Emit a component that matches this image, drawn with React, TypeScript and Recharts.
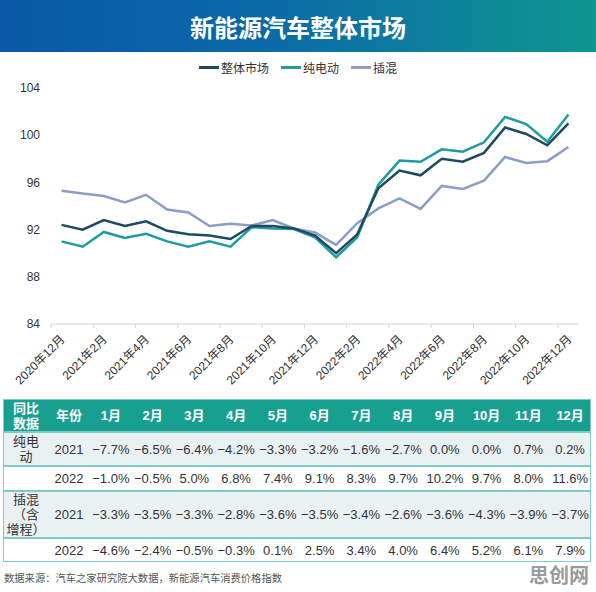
import { LineChart, Line, XAxis, YAxis } from 'recharts'

// 月度价格指数（2020年12月 - 2022年12月）
const months = [
  '2020年12月',
  '2021年1月', '2021年2月', '2021年3月', '2021年4月', '2021年5月', '2021年6月',
  '2021年7月', '2021年8月', '2021年9月', '2021年10月', '2021年11月', '2021年12月',
  '2022年1月', '2022年2月', '2022年3月', '2022年4月', '2022年5月', '2022年6月',
  '2022年7月', '2022年8月', '2022年9月', '2022年10月', '2022年11月', '2022年12月',
]
const overall = [
  92.4, 92.0, 92.8, 92.3, 92.7, 91.9, 91.6, 91.5, 91.2, 92.3, 92.3, 92.1,
  91.5, 90.0, 91.6, 95.5, 97.0, 96.6, 98.0, 97.75, 98.5, 100.65, 100.1, 99.15, 101.0,
]
const bev = [
  91.0, 90.55, 91.8, 91.3, 91.65, 91.0, 90.55, 91.0, 90.55, 92.2, 92.1, 92.05,
  91.35, 89.65, 91.35, 95.8, 97.85, 97.75, 98.8, 98.6, 99.4, 101.55, 100.95, 99.45, 101.75,
]
const phev = [
  95.3, 95.05, 94.85, 94.3, 94.95, 93.7, 93.45, 92.3, 92.5, 92.35, 92.8, 92.1,
  91.75, 90.7, 92.55, 93.8, 94.65, 93.75, 95.7, 95.45, 96.15, 98.15, 97.65, 97.8, 99.0,
]
const yTicks = [84, 88, 92, 96, 100, 104]

// 同比数据表
const tableMonths = ['1月', '2月', '3月', '4月', '5月', '6月', '7月', '8月', '9月', '10月', '11月', '12月']
const bev2021 = [-7.7, -6.5, -6.4, -4.2, -3.3, -3.2, -1.6, -2.7, 0.0, 0.0, 0.7, 0.2]
const bev2022 = [-1.0, -0.5, 5.0, 6.8, 7.4, 9.1, 8.3, 9.7, 10.2, 9.7, 8.0, 11.6]
const phev2021 = [-3.3, -3.5, -3.3, -2.8, -3.6, -3.5, -3.4, -2.6, -3.6, -4.3, -3.9, -3.7]
const phev2022 = [-4.6, -2.4, -0.5, -0.3, 0.1, 2.5, 3.4, 4.0, 6.4, 5.2, 6.1, 7.9]

const C_ALL = '#1c4a5e'
const C_BEV = '#1e9c9e'
const C_PHEV = '#8c9dc8'
const HEAD = '#17a090'
const LIGHT = '#e9f1f3'
const FONT = '"Liberation Sans", "Noto Sans CJK SC", sans-serif'
const CJK = '"Noto Sans CJK SC", sans-serif'

const PLOT_W = 528
const HALF_BAND = PLOT_W / months.length / 2

const data = months.map((m, i) => ({ i, m, overall: overall[i], bev: bev[i], phev: phev[i] }))
const labelTicks = months.map((_, i) => i).filter(i => i % 2 === 0)

// eslint-disable-next-line @typescript-eslint/no-explicit-any
function MonthTick(props: any) {
  const { x, y, payload } = props
  const ax = x + 4
  const ay = y + 16
  return (
    <g>
      <line x1={x - HALF_BAND} x2={x - HALF_BAND} y1={y} y2={y + 4} stroke="#d4d4d4" />
      <text x={ax} y={ay} transform={`rotate(-45, ${ax}, ${ay})`} textAnchor="end"
        fontSize={12} fill="#333" fontFamily={FONT}>
        {months[payload.value]}
      </text>
    </g>
  )
}

const fmt = (v: number) => (v < 0 ? '\u2212' : '') + Math.abs(v).toFixed(1) + '%'

// column / row geometry of the table
const colX = [4, 48, ...tableMonths.map((_, j) => 90 + j * 41.75)]
const colW = [44, 42, ...tableMonths.map(() => 41.75)]
const rows = [
  { top: 399, h: 33 },
  { top: 432, h: 34 },
  { top: 466, h: 25 },
  { top: 491, h: 47 },
  { top: 538, h: 24 },
]

// eslint-disable-next-line @typescript-eslint/no-explicit-any
function Cell({ c, r, children, color = '#333', weight = 400 }: any) {
  return (
    <div style={{
      position: 'absolute', left: colX[c], top: rows[r].top, width: colW[c], height: rows[r].h,
      display: 'flex', alignItems: 'center', justifyContent: 'center', textAlign: 'center',
      fontSize: 13, lineHeight: '15px', color, fontWeight: weight, whiteSpace: 'pre-line',
    }}>{children}</div>
  )
}

const legendItems = [
  { name: '整体市场', color: C_ALL },
  { name: '纯电动', color: C_BEV },
  { name: '插混', color: C_PHEV },
]

export default function App() {
  const body = [
    { label: '纯电\n动', year: '2021', vals: bev2021 },
    { label: '', year: '2022', vals: bev2022 },
    { label: '插混\n（含\n增程）', year: '2021', vals: phev2021 },
    { label: '', year: '2022', vals: phev2022 },
  ]
  return (
    <div style={{ position: 'absolute', left: 0, top: 0, width: 596, height: 592, background: '#fff', fontFamily: FONT, overflow: 'hidden' }}>
      <div style={{
        position: 'absolute', left: 0, top: 0, width: 596, height: 52,
        background: 'linear-gradient(90deg, #0a58a6 0%, #0b6aa8 45%, #0f9690 100%)',
        display: 'flex', alignItems: 'center', justifyContent: 'center',
        color: '#fff', fontFamily: CJK, fontWeight: 700, fontSize: 24,
      }}>新能源汽车整体市场</div>

      <div style={{ position: 'absolute', left: 0, top: 59, width: 596, height: 16, display: 'flex', justifyContent: 'center', alignItems: 'center', gap: 12 }}>
        {legendItems.map(it => (
          <div key={it.name} style={{ display: 'flex', alignItems: 'center' }}>
            <span style={{ display: 'inline-block', width: 20, height: 3, background: it.color, marginRight: 2 }} />
            <span style={{ fontFamily: CJK, fontSize: 12, color: '#333' }}>{it.name}</span>
          </div>
        ))}
      </div>

      <div style={{ position: 'absolute', left: 0, top: 0 }}>
        <LineChart width={596} height={395} data={data} margin={{ top: 88, right: 17, bottom: 0, left: 0 }}>
          <XAxis
            dataKey="i"
            type="number"
            domain={[-0.5, 24.5]}
            ticks={labelTicks}
            interval={0}
            tick={<MonthTick />}
            tickLine={false}
            tickSize={0}
            tickMargin={0}
            height={71}
            axisLine={{ stroke: '#d4d4d4' }}
          />
          <YAxis
            type="number"
            domain={[84, 104]}
            ticks={yTicks}
            width={51}
            axisLine={false}
            tickLine={false}
            tickMargin={5}
            tick={{ fill: '#333', fontSize: 12, fontFamily: FONT }}
          />
          <Line dataKey="phev" stroke={C_PHEV} strokeWidth={2.5} dot={false} isAnimationActive={false} />
          <Line dataKey="bev" stroke={C_BEV} strokeWidth={2.5} dot={false} isAnimationActive={false} />
          <Line dataKey="overall" stroke={C_ALL} strokeWidth={2.5} dot={false} isAnimationActive={false} />
        </LineChart>
      </div>

      {/* table */}
      <div style={{ position: 'absolute', left: 4, top: 399, width: 587, height: 33, background: HEAD }} />
      <div style={{ position: 'absolute', left: 4, top: 432, width: 587, height: 34, background: LIGHT }} />
      <div style={{ position: 'absolute', left: 4, top: 491, width: 587, height: 47, background: LIGHT }} />
      {[432, 466, 491, 538].map(t => (
        <div key={t} style={{ position: 'absolute', left: 4, top: t - 1, width: 587, height: 2, background: '#7fcac3' }} />
      ))}
      <div style={{ position: 'absolute', left: 3, top: 399, width: 588, height: 163, border: '1px solid #7fcac3', boxSizing: 'border-box' }} />

      <Cell c={0} r={0} color="#fff" weight={600}>{'同比\n数据'}</Cell>
      <Cell c={1} r={0} color="#fff" weight={600}>年份</Cell>
      {tableMonths.map((m, j) => <Cell key={m} c={j + 2} r={0} color="#fff" weight={600}>{m}</Cell>)}
      {body.map((row, k) => (
        <div key={k}>
          <Cell c={0} r={k + 1}>{row.label}</Cell>
          <Cell c={1} r={k + 1}>{row.year}</Cell>
          {row.vals.map((v, j) => <Cell key={j} c={j + 2} r={k + 1}>{fmt(v)}</Cell>)}
        </div>
      ))}

      <div style={{ position: 'absolute', left: 4, top: 570, fontFamily: CJK, fontSize: 10.3, color: '#555', whiteSpace: 'nowrap' }}>
        数据来源：汽车之家研究院大数据，新能源汽车消费价格指数
      </div>
      <div style={{ position: 'absolute', left: 529, top: 560, fontFamily: CJK, fontSize: 20, fontWeight: 700, color: '#9a9a9a', whiteSpace: 'nowrap' }}>
        思创网
      </div>
    </div>
  )
}
